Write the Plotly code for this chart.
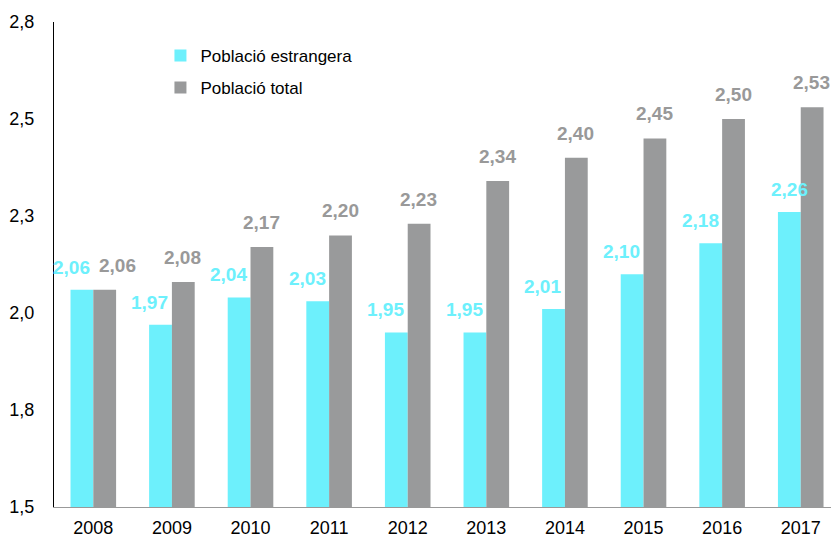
import plotly.graph_objects as go

years = ["2008", "2009", "2010", "2011", "2012", "2013", "2014", "2015", "2016", "2017"]
estrangera = [2.06, 1.97, 2.04, 2.03, 1.95, 1.95, 2.01, 2.10, 2.18, 2.26]
total = [2.06, 2.08, 2.17, 2.20, 2.23, 2.34, 2.40, 2.45, 2.50, 2.53]
tick_vals = [1.5, 1.75, 2.0, 2.25, 2.5, 2.75]
tick_text = ["1,5", "1,8", "2,0", "2,3", "2,5", "2,8"]

CYAN = "#6DF0FC"
GRAY = "#999A9B"
FONT = "Liberation Sans, Arial"

fig = go.Figure()
fig.add_trace(go.Bar(x=years, y=estrangera, name="Població estrangera",
                     marker=dict(color=CYAN, line=dict(width=0)), legend="legend"))
fig.add_trace(go.Bar(x=years, y=total, name="Població total",
                     marker=dict(color=GRAY, line=dict(width=0)), legend="legend2"))

def fmt(v):
    return f"{v:.2f}".replace(".", ",")

n = len(years)
for i, v in enumerate(estrangera):
    fig.add_annotation(x=i, y=v, text=fmt(v), showarrow=False, xanchor="center",
                       yanchor="bottom", xshift=-22 if i < n - 1 else -11, yshift=10,
                       font=dict(family=FONT, size=19, color=CYAN, weight="bold"))
for i, v in enumerate(total):
    fig.add_annotation(x=i, y=v, text=fmt(v), showarrow=False, xanchor="center",
                       yanchor="bottom", xshift=24 if i == 0 else 11, yshift=12,
                       font=dict(family=FONT, size=19, color="#999999", weight="bold"))

def legend_cfg(ypix):
    return dict(bgcolor="rgba(0,0,0,0)", font=dict(family=FONT, size=17, color="#000000"),
                x=0.137, y=(507 - ypix) / 485, xanchor="left", yanchor="middle",
                itemwidth=30)

fig.update_layout(
    width=831, height=536,
    margin=dict(l=54, r=0, t=22, b=29),
    plot_bgcolor="white", paper_bgcolor="white",
    barmode="group", bargap=0.42, bargroupgap=0,
    font=dict(family=FONT, color="#000000"),
    showlegend=True,
    legend=legend_cfg(56),
    legend2=legend_cfg(88),
    xaxis=dict(type="category", range=[-0.5, n - 0.615], showgrid=False, showline=True,
               linecolor="#999999", linewidth=1, ticks="", tickfont=dict(size=18),
               ticklabelstandoff=4, automargin=False),
    yaxis=dict(range=[1.5, 2.75], tickvals=tick_vals, ticktext=tick_text,
               showgrid=False, showline=True, linecolor="#000000", linewidth=1,
               ticks="", tickfont=dict(size=18), ticklabelstandoff=15, zeroline=False,
               automargin=False),
)
fig.write_html("out.html", config={"displayModeBar": False},
               post_script="document.body.style.margin='0';document.body.style.overflow='hidden';")
